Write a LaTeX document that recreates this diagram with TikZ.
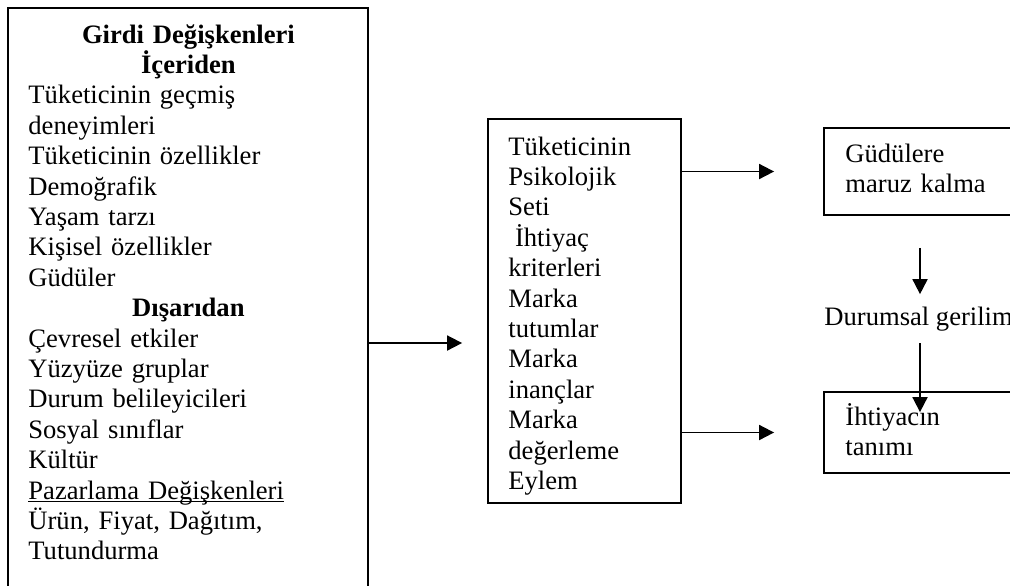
\documentclass[tikz,border=0pt]{standalone}
\usepackage{fontspec}
\setmainfont{Liberation Serif}
\usetikzlibrary{arrows.meta}

\begin{document}
\begin{tikzpicture}[x=0.5pt, y=-0.5pt,
    box/.style={draw, rectangle, line width=0.9pt, inner sep=0pt},
    txt/.style={anchor=base west, align=left, inner sep=0pt, font=\fontsize{13.3pt}{15.2pt}\selectfont},
    arr/.style={-{Triangle[length=7.5pt, width=7.5pt]}, line width=0.9pt}]
				\useasboundingbox (0,0) rectangle (1010,585);
				\clip (0,0) rectangle (1010,585);

				% Boxes
				\node (box1) [box, minimum width=180pt, minimum height=335pt] at (188,343) {};
				\node (box2) [box, minimum width=96.5pt, minimum height=192pt] at (584.5,311) {};
				\node (box3) [box, minimum width=96pt, minimum height=43.5pt] at (920,171.5) {};
				\node (box4) [box, minimum width=96pt, minimum height=40.5pt] at (920,432.5) {};

				% Texts
				\node (txt1) [txt, text width=160pt] at (28,43) {\hspace*{\fill}\textbf{Girdi Değişkenleri}\hspace*{\fill}\mbox{}\\
					\hspace*{\fill}\textbf{İçeriden}\hspace*{\fill}\mbox{}\\
					Tüketicinin geçmiş\\
					deneyimleri\\
					Tüketicinin özellikler\\
					Demoğrafik\\
					Yaşam tarzı\\
					Kişisel özellikler\\
					Güdüler\\
					\hspace*{\fill}\textbf{Dışarıdan}\hspace*{\fill}\mbox{}\\
					Çevresel etkiler\\
					Yüzyüze gruplar\\
					Durum belileyicileri\\
					Sosyal sınıflar\\
					Kültür\\
					\underline{\smash{Pazarlama Değişkenleri}}\\
					Ürün, Fiyat, Dağıtım,\\
					Tutundurma};
				\node (txt2) [txt, text width=80pt] at (508,155) {Tüketicinin\\ Psikolojik\\ Seti\\ \hspace*{0.25em}İhtiyaç\\ kriterleri\\ Marka\\ tutumlar\\ Marka\\ inançlar\\ Marka\\ değerleme\\ Eylem};
				\node (txt3) [txt, text width=80pt] at (845,162) {Güdülere\\ maruz kalma};
				\node (durum) [txt] at (824,325) {Durumsal gerilim};
				\node (txt4) [txt, text width=80pt] at (845,425) {İhtiyacın\\ tanımı};

				% Arrows
				\draw[arr, shorten >=12.5pt] (box1.east) -- (box1.east -| box2.west);
				\draw[arr, shorten >=24.5pt] (box3.west -| box2.east) -- (box3.west);
				\draw[arr, shorten >=24.5pt] (box4.west -| box2.east) -- (box4.west);
				\draw[arr, shorten <=16pt, shorten >=6pt] (box3.south) -- (box3.south |- durum.north);
				\draw[arr, shorten <=6pt, shorten >=-10.5pt] (box3.south |- durum.south) -- (box4.north);
			\end{tikzpicture}
\end{document}
